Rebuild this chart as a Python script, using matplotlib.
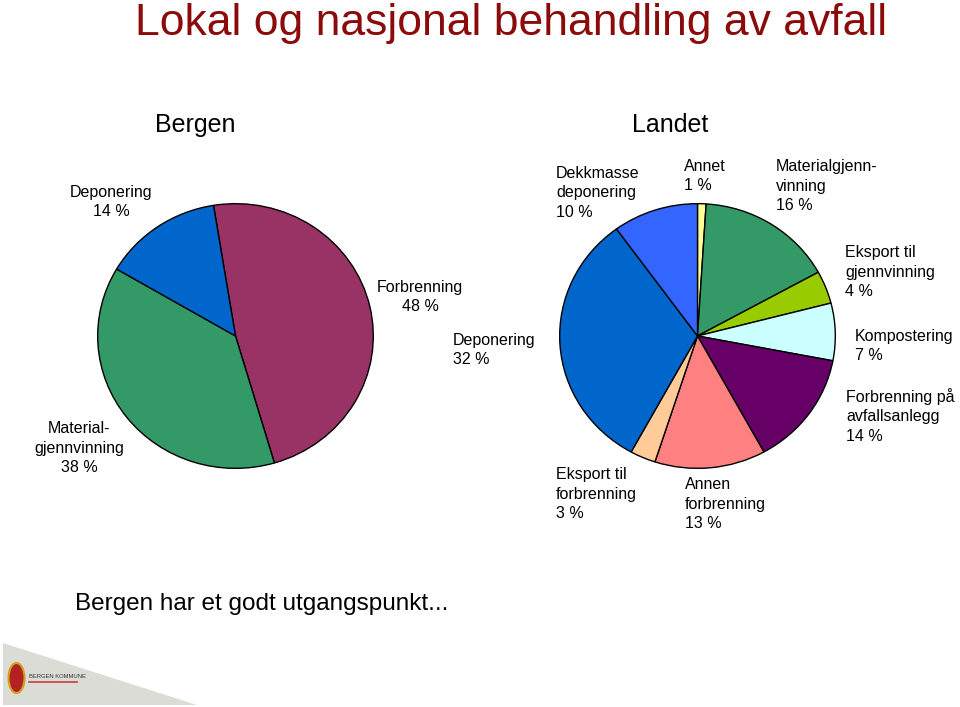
import matplotlib.pyplot as plt
from matplotlib.patches import Polygon, Ellipse

plt.rcParams['font.family'] = ['Liberation Sans', 'DejaVu Sans']

# data
bergen_names = ['Forbrenning', 'Material-\ngjennvinning', 'Deponering']
bergen_vals = [48, 38, 14]
bergen_colors = ['#993366', '#339966', '#0066CC']

landet_names = ['Annet', 'Materialgjenn-\nvinning', 'Eksport til\ngjennvinning',
                'Kompostering', 'Forbrenning på\navfallsanlegg', 'Annen\nforbrenning',
                'Eksport til\nforbrenning', 'Deponering', 'Dekkmasse\ndeponering']
landet_vals = [1, 16, 4, 7, 14, 13, 3, 32, 10]
landet_colors = ['#FFFF99', '#339966', '#99CC00', '#CCFFFF', '#660066',
                 '#FF8080', '#FFCC99', '#0066CC', '#3366FF']

W, H = 960, 707
fig = plt.figure(figsize=(W / 100, H / 100), dpi=100)


def px(x, y):
    return x / W, 1 - y / H


def pie_axes(left, top, right, bottom):
    return fig.add_axes([left / W, 1 - bottom / H, (right - left) / W, (bottom - top) / H])


wedge_kw = dict(edgecolor='black', linewidth=1.0)

ax1 = pie_axes(97, 203, 374, 469)
ax1.pie(bergen_vals, colors=bergen_colors, startangle=99.2, counterclock=False,
        wedgeprops=wedge_kw)
ax1.set_aspect('auto')
ax1.set_xlim(-1.005, 1.005)
ax1.set_ylim(-1.005, 1.005)

ax2 = pie_axes(559, 203, 836, 469)
ax2.pie(landet_vals, colors=landet_colors, startangle=90, counterclock=False,
        wedgeprops=wedge_kw)
ax2.set_aspect('auto')
ax2.set_xlim(-1.005, 1.005)
ax2.set_ylim(-1.005, 1.005)

# slice labels (x, y-center, alignment)
lab_fs = 11.5
ls = 1.4
bergen_pos = [(420, 297, 'center'), (79, 448, 'center'), (111, 202, 'center')]
for name, v, (x, y, ha) in zip(bergen_names, bergen_vals, bergen_pos):
    fig.text(*px(x, y), f'{name}\n{v} %', ha=ha, va='center', fontsize=lab_fs,
             linespacing=ls, multialignment='center')

landet_pos = [(684, 176), (776, 186), (845, 272), (855, 346), (846, 416),
              (685, 504), (556, 494), (453, 350), (556, 193)]
for name, v, (x, y) in zip(landet_names, landet_vals, landet_pos):
    fig.text(*px(x, y), f'{name}\n{v} %', ha='left', va='center', fontsize=lab_fs,
             linespacing=ls)

# titles
fig.text(*px(511, 24), 'Lokal og nasjonal behandling av avfall', ha='center', va='center',
         fontsize=32, color='#8B0A0A')
fig.text(*px(195, 125), 'Bergen', ha='center', va='center', fontsize=18)
fig.text(*px(670, 125), 'Landet', ha='center', va='center', fontsize=18)
fig.text(*px(75, 604), 'Bergen har et godt utgangspunkt...', ha='left', va='center',
         fontsize=17.5)

# footer band with logo
fig.patches.append(Polygon([px(3, 643), px(197, 705), px(3, 705)], closed=True,
                           transform=fig.transFigure, facecolor='#DCDCD6',
                           edgecolor='none'))
fig.patches.append(Ellipse(px(16.5, 678), 16 / W, 30 / H, transform=fig.transFigure,
                           facecolor='#B22222', edgecolor='#D4A017', linewidth=1.5))
fig.text(*px(29, 676), 'BERGEN KOMMUNE', ha='left', va='center', fontsize=4.2,
         color='#333333')
fig.lines.append(plt.Line2D([29 / W, 77 / W], [1 - 682 / H, 1 - 682 / H],
                            transform=fig.transFigure, color='#C04040', linewidth=1.2))

fig.savefig('out.png', dpi=100)
